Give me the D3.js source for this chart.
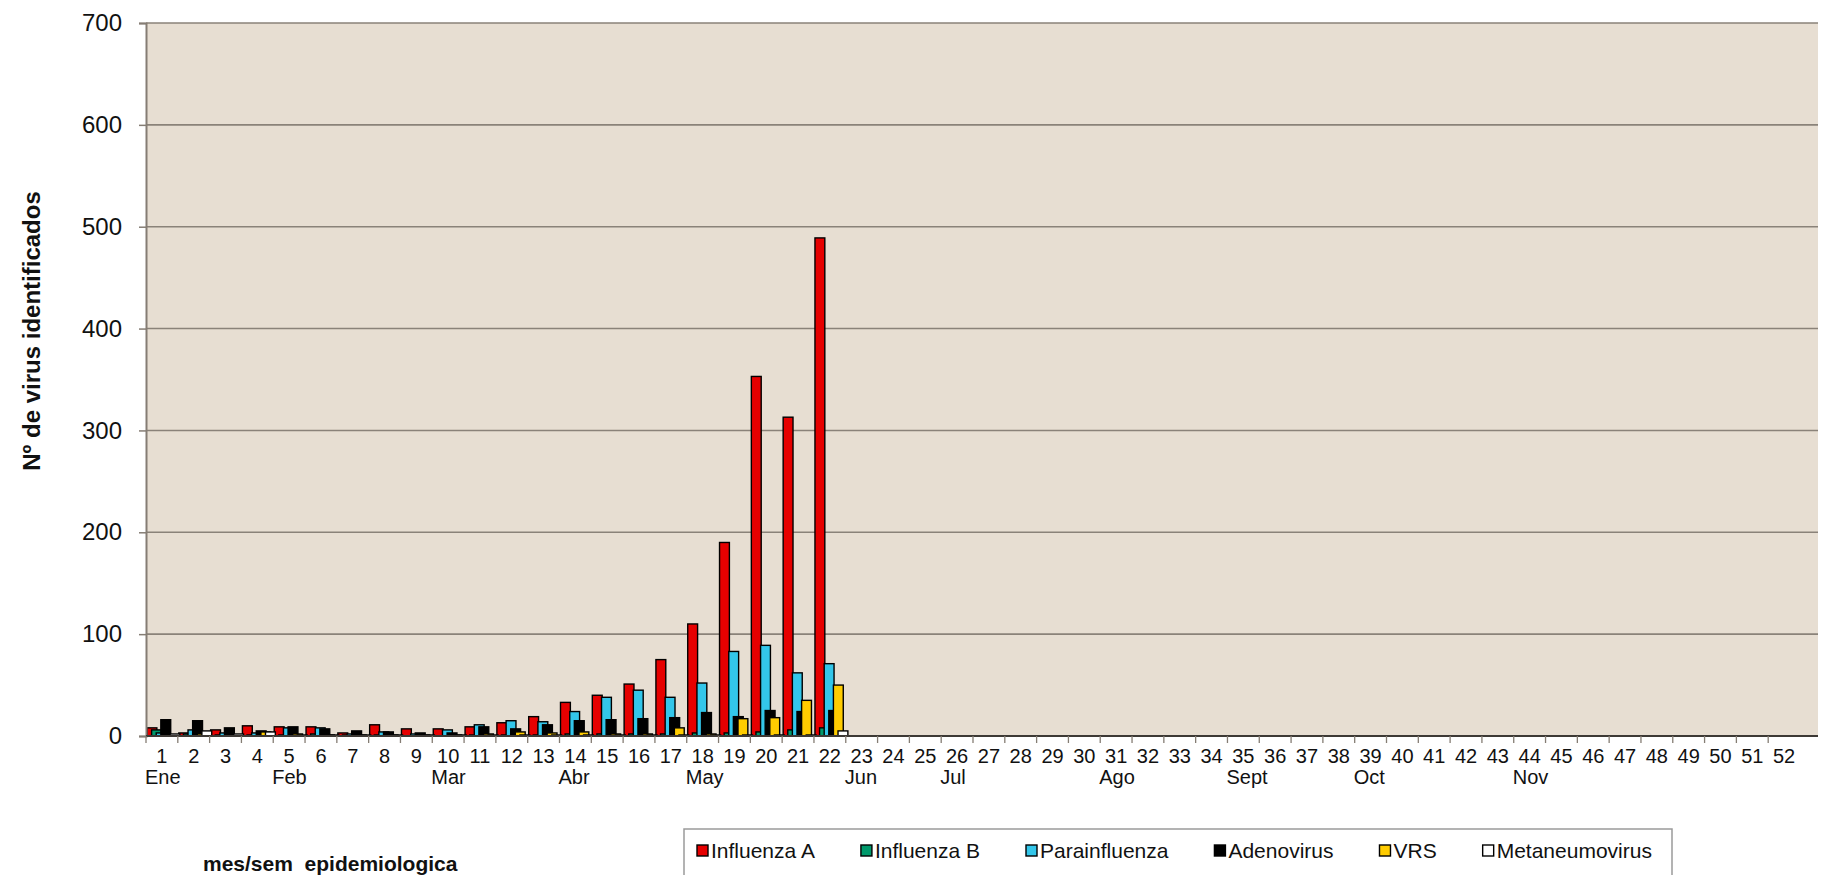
<!DOCTYPE html>
<html>
<head>
<meta charset="utf-8">
<script src="https://cdn.jsdelivr.net/npm/d3@7"></script>
<style>
  body { margin: 0; background: #fff; }
  svg { display: block; font-family: "Liberation Sans", Arial, sans-serif; }
</style>
</head>
<body>
<div id="chart"></div>
<script>
// tamaño de la ventana
const width = 1823;
const height = 875;

// categorias: semanas epidemiologicas y meses
const weeks = d3.range(1, 53);
const months = ["Ene", "Feb", "Mar", "Abr", "May", "Jun", "Jul", "Ago", "Sept", "Oct", "Nov"];
const monthStartWeek = [1, 5, 10, 14, 18, 23, 26, 31, 35, 39, 44];
const yTicks = [0, 100, 200, 300, 400, 500, 600, 700];

// series (semanas 1 a 22, el resto sin datos)
const seriesNames = ["Influenza A", "Influenza B", "Parainfluenza", "Adenovirus", "VRS", "Metaneumovirus"];
const seriesColors = ["#e60000", "#00996b", "#33c6ea", "#000000", "#ffcc00", "#ffffff"];
const influenzaA    = [8, 3, 6, 10, 9, 9, 3, 11, 7, 7, 9, 13, 19, 33, 40, 51, 75, 110, 190, 353, 313, 489];
const influenzaB    = [6, 2, 1, 1, 1, 2, 1, 1, 0, 0, 1, 1, 1, 2, 2, 2, 2, 3, 3, 4, 6, 8];
const parainfluenza = [3, 6, 3, 3, 8, 8, 2, 4, 2, 6, 11, 15, 14, 24, 38, 45, 38, 52, 83, 89, 62, 71];
const adenovirus    = [16, 15, 8, 5, 9, 7, 5, 4, 3, 3, 9, 7, 11, 15, 16, 17, 18, 23, 19, 25, 24, 25];
const vrs           = [1, 2, 1, 4, 2, 1, 1, 1, 1, 1, 2, 4, 3, 4, 2, 2, 8, 2, 17, 18, 35, 50];
const metaneumo     = [2, 5, 2, 4, 1, 1, 1, 1, 1, 1, 1, 1, 1, 1, 1, 1, 1, 1, 1, 1, 1, 5];
const seriesValues = [influenzaA, influenzaB, parainfluenza, adenovirus, vrs, metaneumo];

const plot = { left: 146, right: 1800, top: 23, bottom: 736, bgRight: 1818 };

const svg = d3.select("#chart").append("svg")
    .attr("width", width)
    .attr("height", height);

const x = d3.scaleBand().domain(weeks).range([plot.left, plot.right]).padding(0);
const y = d3.scaleLinear().domain([0, 700]).range([plot.bottom, plot.top]);

// fondo del area de grafico
svg.append("rect")
    .attr("x", plot.left)
    .attr("y", plot.top)
    .attr("width", plot.bgRight - plot.left)
    .attr("height", plot.bottom - plot.top)
    .attr("fill", "#e7ded2");

// lineas de division
svg.append("g").selectAll("line")
  .data(yTicks.filter(d => d > 0))
  .join("line")
    .attr("x1", plot.left)
    .attr("x2", plot.bgRight)
    .attr("y1", d => y(d))
    .attr("y2", d => y(d))
    .attr("stroke", "#8a8279")
    .attr("stroke-width", 1.6);

// barras
const bw = x.bandwidth();
const step = bw * 0.145;
const barW = bw * 0.31;

seriesValues.forEach((vals, s) => {
  svg.append("g").selectAll("rect")
    .data(vals.map((v, i) => ({ week: weeks[i], v: v })).filter(d => d.v > 0))
    .join("rect")
      .attr("x", d => x(d.week) + 1 + s * step)
      .attr("y", d => y(d.v))
      .attr("width", barW)
      .attr("height", d => y(0) - y(d.v))
      .attr("fill", seriesColors[s])
      .attr("stroke", "#000")
      .attr("stroke-width", 1.4);
});

// eje y
const yAxis = svg.append("g")
    .attr("transform", `translate(${plot.left},0)`)
    .call(d3.axisLeft(y).tickValues(yTicks).tickSize(7).tickPadding(17));
yAxis.select(".domain").attr("stroke", "#857d74").attr("stroke-width", 2);
yAxis.selectAll(".tick line").attr("stroke", "#857d74").attr("stroke-width", 1.5);
yAxis.selectAll(".tick text")
    .attr("font-size", 24)
    .attr("font-family", "Liberation Sans, Arial, sans-serif")
    .attr("fill", "#111");

// eje x (linea del cero)
svg.append("line")
    .attr("x1", plot.left)
    .attr("x2", plot.bgRight)
    .attr("y1", y(0))
    .attr("y2", y(0))
    .attr("stroke", "#3d3935")
    .attr("stroke-width", 2);

const xAxis = svg.append("g")
    .attr("transform", `translate(0,${plot.bottom})`)
    .call(d3.axisBottom(x).tickSize(0).tickPadding(13));
xAxis.select(".domain").remove();
xAxis.selectAll(".tick text")
    .attr("font-size", 20)
    .attr("font-family", "Liberation Sans, Arial, sans-serif")
    .attr("fill", "#111");

// marcas entre semanas
svg.append("g").selectAll("line")
  .data(weeks)
  .join("line")
    .attr("x1", d => x(d))
    .attr("x2", d => x(d))
    .attr("y1", plot.bottom)
    .attr("y2", plot.bottom + 7)
    .attr("stroke", "#857d74")
    .attr("stroke-width", 1.3);

// meses
svg.append("g").selectAll("text")
  .data(months)
  .join("text")
    .attr("x", (d, i) => x(monthStartWeek[i]) - 1)
    .attr("y", 784)
    .attr("font-size", 20)
    .attr("fill", "#111")
    .text(d => d);

// titulos
svg.append("text")
    .attr("transform", "translate(40,331) rotate(-90)")
    .attr("text-anchor", "middle")
    .attr("font-size", 24)
    .attr("font-weight", "bold")
    .attr("fill", "#111")
    .text("Nº de virus identificados");

svg.append("text")
    .attr("x", 203)
    .attr("y", 871)
    .attr("font-size", 21)
    .attr("font-weight", "bold")
    .attr("fill", "#111")
    .style("white-space", "pre")
    .text("mes/sem  epidemiologica");

// leyenda
const legend = svg.append("g");
legend.append("rect")
    .attr("x", 684)
    .attr("y", 829)
    .attr("width", 988)
    .attr("height", 60)
    .attr("fill", "#fff")
    .attr("stroke", "#9a9a9a")
    .attr("stroke-width", 1.5);

let lx = 697;
seriesNames.forEach((name, i) => {
  const g = legend.append("g").attr("transform", `translate(${lx},0)`);
  g.append("rect")
      .attr("x", 0)
      .attr("y", 845)
      .attr("width", 11)
      .attr("height", 11)
      .attr("fill", seriesColors[i])
      .attr("stroke", "#000")
      .attr("stroke-width", 1.4);
  const t = g.append("text")
      .attr("x", 14)
      .attr("y", 858)
      .attr("font-size", 21)
      .attr("fill", "#111")
      .text(name);
  lx += 14 + t.node().getComputedTextLength() + 46;
});
</script>
</body>
</html>
